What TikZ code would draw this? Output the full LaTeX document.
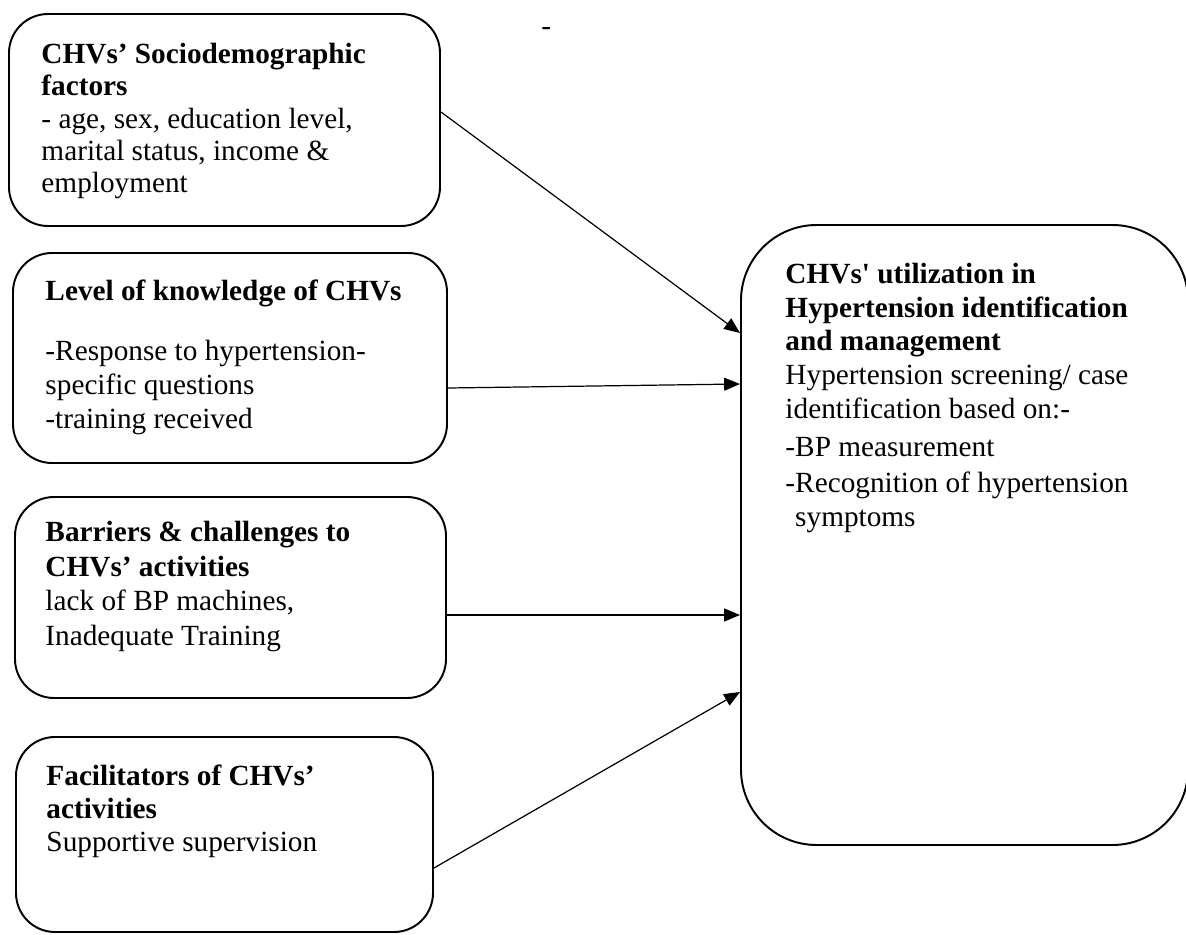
\documentclass[tikz,border=0pt]{standalone}
\usepackage{fontspec}
\setmainfont{Liberation Serif}
\usetikzlibrary{arrows.meta,fit}

\tikzset{
  factor/.style={draw, line width=0.8pt, rounded corners=16pt, inner sep=0pt},
  outcome/.style={draw, line width=0.8pt, rounded corners=31pt, inner sep=0pt},
  txt/.style={anchor=base west, inner sep=0pt, align=left, font=\fontsize{12}{13.8}\selectfont},
  link/.style={-{Triangle[length=6.5pt,width=5.3pt]}, line width=0.5pt}
}

\begin{document}
\begin{tikzpicture}[x=0.41pt, y=-0.41pt]
    \useasboundingbox (0,0) rectangle (1186,935);
    % boxes on the left
    \node[factor, fit={(9,14) (440,226)}] (socio) {};
    \node[factor, fit={(13,253) (447,463)}] (know) {};
    \node[factor, fit={(15,497) (446,698)}] (barr) {};
    \node[factor, fit={(16,737) (433,932)}] (facil) {};
    % box on the right
    \node[outcome, fit={(741,225) (1188,845)}] (util) {};

    % texts, placed at the baseline of their last line
    \node[txt, font=\fontsize{12}{13.3}\selectfont] (sociotxt) at (41,193) {\textbf{CHVs’ Sociodemographic}\\
        \textbf{factors}\\
        - age, sex, education level,\\
        marital status, income \&\\
        employment};
    \node[txt] (knowtxt) at (45,428) {\textbf{Level of knowledge of CHVs}\\[10.8pt]
        -Response to hypertension-\\
        specific questions\\
        -training received};
    \node[txt, font=\fontsize{12}{14.1}\selectfont] (barrtxt) at (45,645) {\textbf{Barriers \& challenges to}\\
        \textbf{CHVs’ activities}\\
        lack of BP machines,\\
        Inadequate Training};
    \node[txt, font=\fontsize{12}{13.5}\selectfont] (faciltxt) at (46,851) {\textbf{Facilitators of CHVs’}\\
        \textbf{activities}\\
        Supportive supervision};
    \node[txt] (utiltxt) at (785,526) {\textbf{CHVs\textquotesingle{} utilization in}\\
        \textbf{Hypertension identification}\\
        \textbf{and management}\\
        Hypertension screening/ case\\
        identification based on:-\\[1.8pt]
        -BP measurement\\[1pt]
        -Recognition of hypertension\\
        \hphantom{-}symptoms};
    \node[txt] (dash) at (541,36) {-};

    % arrows into the outcome
    \draw[link] (socio.east |- 0,112) -- (util.west |- 0,333);
    \draw[link] (know.east |- 0,388) -- (util.west |- 0,384);
    \draw[link] (barr.east |- 0,615) -- (util.west |- 0,615);
    \draw[link] (facil.east |- 0,868) -- (util.west |- 0,692);
\end{tikzpicture}
\end{document}
